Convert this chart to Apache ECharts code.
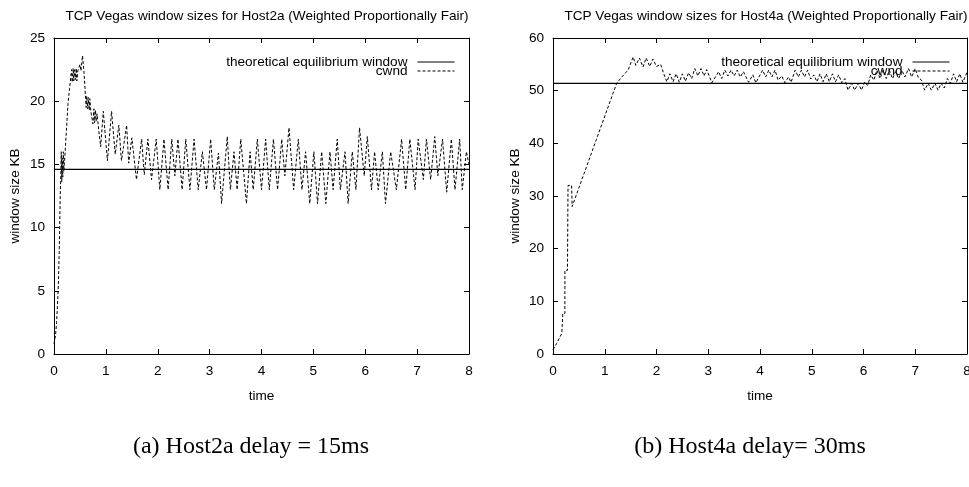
<!DOCTYPE html>
<html lang="en">
<head>
  <meta charset="utf-8">
  <style>
    html, body { margin: 0; padding: 0; background: #fff; }
  </style>
</head>
<body>
  <div id="container" style="width: 969px; height: 487px;"></div>
  <script type="text/javascript" src="https://fastly.jsdelivr.net/npm/echarts@6/dist/echarts.min.js"></script>
  <script type="text/javascript">
    // valores (tempo em s, janela em KB)
    var leftTime = [0, 0.03, 0.05, 0.08, 0.1, 0.12, 0.13, 0.14, 0.15, 0.16, 0.17, 0.18, 0.19, 0.2, 0.27,
      0.3, 0.34, 0.35, 0.37, 0.38, 0.4, 0.41, 0.43, 0.44, 0.46, 0.5, 0.52, 0.55, 0.58, 0.62,
      0.63, 0.65, 0.66, 0.68, 0.69, 0.71, 0.74, 0.75, 0.77, 0.78, 0.8, 0.81, 0.83, 0.86, 0.9,
      0.95, 1.03, 1.11, 1.18, 1.25, 1.30, 1.34, 1.40, 1.44, 1.50, 1.59, 1.69, 1.74, 1.81, 1.88, 1.97, 2.04,
      2.12, 2.20, 2.27, 2.33, 2.39, 2.47, 2.54, 2.62, 2.70, 2.78, 2.86, 2.94, 3.02, 3.09, 3.17, 3.23,
      3.34, 3.40, 3.47, 3.53, 3.60, 3.71, 3.78, 3.84, 3.92,
      4.00, 4.08, 4.15, 4.23, 4.31, 4.39, 4.45, 4.53, 4.62, 4.71, 4.78, 4.85, 4.93, 5.01, 5.08, 5.16,
      5.24, 5.32, 5.38, 5.46, 5.52, 5.61, 5.67, 5.75, 5.82, 5.89,
      5.98, 6.04, 6.12, 6.18, 6.25, 6.33, 6.39, 6.49, 6.60, 6.70, 6.78, 6.86, 6.96, 7.02, 7.12, 7.18,
      7.26, 7.34, 7.40, 7.49, 7.57, 7.66, 7.73, 7.82, 7.87, 7.95, 8.0];
    var leftCwnd = [0.8, 1.5, 2.5, 5, 8, 12.5, 14, 16, 13.6, 15.5, 14, 16, 14.5, 15, 19.8,
      21, 22.5, 21.5, 22.6, 21.6, 22.5, 21.7, 22.6, 21.6, 22.4, 22.9, 22.4, 23.6, 22.2, 19.5,
      20.4, 19.4, 20.3, 19.3, 20.2, 19.2, 19.3, 18.2, 19.4, 18.3, 19.3, 18.4, 19.0, 17.8, 16.4,
      19.2, 15.3, 19.2, 15.8, 18.1, 15.3, 16.4, 18.1, 15.1, 17.1, 13.8, 17.0, 14.2, 17.0, 13.8, 17.0, 13.0,
      17, 13, 17, 14.1, 17, 13, 17, 13, 17, 13, 16, 13, 17, 13, 15.9, 11.9,
      17.2, 13, 16, 13, 17, 11.9, 16, 13, 17,
      13, 17, 13, 17, 13, 17, 14.1, 17.9, 13, 17, 13, 16, 11.9, 16, 11.9, 16,
      11.9, 16, 13, 17, 13, 16, 11.9, 16, 13, 17.9,
      14.1, 17.2, 13, 16, 13, 16, 11.9, 16, 13, 17, 13, 17, 13, 17, 13.8, 17,
      13.8, 17.2, 14.1, 17, 12.8, 17, 13, 17, 13, 16, 15];
    var leftEquilibrium = 14.6;

    var rightTime = [0, 0.07, 0.17, 0.19, 0.23, 0.23, 0.28, 0.29, 0.36, 0.37, 1.23, 1.33, 1.45,
      1.55, 1.6, 1.67, 1.74, 1.8, 1.87, 1.93, 2.0, 2.08, 2.14, 2.2,
      2.26, 2.32, 2.38, 2.44, 2.5, 2.56, 2.62,
      2.68, 2.74, 2.80, 2.86, 2.92, 2.97, 3.07,
      3.2, 3.26, 3.32, 3.38, 3.44, 3.5, 3.56, 3.62, 3.68, 3.78, 3.86, 3.92,
      4.05, 4.11, 4.17, 4.23, 4.29, 4.35,
      4.42, 4.48, 4.55, 4.6,
      4.68, 4.74, 4.8, 4.86, 4.92, 4.98, 5.04,
      5.1, 5.16, 5.22, 5.28, 5.34, 5.4, 5.46, 5.52, 5.58, 5.64,
      5.7, 5.77, 5.83, 5.9, 5.96, 6.02,
      6.08, 6.14,
      6.2, 6.26, 6.32, 6.38, 6.44, 6.5, 6.56, 6.62, 6.68, 6.74,
      6.8, 6.87, 6.93, 7.0, 7.06, 7.12,
      7.18, 7.25, 7.31, 7.38, 7.44, 7.5, 7.56,
      7.62, 7.68, 7.74, 7.8, 7.86, 7.92, 8.0];
    var rightCwnd = [0.8, 2, 3.9, 7.7, 7.7, 15.9, 15.9, 32, 32, 28, 51.4, 52.6, 53.9,
      56.4, 54.8, 56.2, 54.5, 56.2, 54.6, 56, 54.6, 55, 53.2, 51.7,
      53.2, 51.7, 53.2, 51.6, 53.2, 51.8, 53.4,
      52.3, 54.2, 52.8, 54.2, 52.8, 54.0, 51.5,
      53.6, 52.3, 53.9, 52.8, 53.9, 52.8, 53.9, 52.6, 53.6, 51.6, 53.0, 51.5,
      53.9, 52.6, 53.9, 52.6, 53.9, 52.0,
      52.8, 51.5, 52.6, 51.6,
      53.9, 52.6, 53.9, 52.6, 53.9, 52.2, 53.0,
      51.7, 53.2, 51.7, 53.2, 51.7, 53.2, 51.7, 53.0, 51.5, 52.3,
      50.1, 51.4, 50.1, 51.4, 50.1, 51.6,
      51.0, 53.0,
      52.0, 53.9, 52.3, 53.9, 52.3, 53.9, 52.3, 53.6, 52.3, 53.9,
      52.6, 54.2, 52.6, 54.2, 52.5, 52.0,
      50.1, 51.4, 50.1, 51.4, 50.1, 51.4, 50.5,
      52.3, 51.4, 53.2, 51.7, 53.2, 51.6, 53.5];
    var rightEquilibrium = 51.4;

    var xTicks = [0, 8, 1];
    var leftYTicks = [0, 25, 5];
    var rightYTicks = [0, 60, 10];

    var titles = ['TCP Vegas window sizes for Host2a (Weighted Proportionally Fair)',
                  'TCP Vegas window sizes for Host4a (Weighted Proportionally Fair)'];
    var captions = ['(a) Host2a delay = 15ms', '(b) Host4a delay= 30ms'];
    var legendNames = ['theoretical equilibrium window', 'cwnd'];

    var sans = "'Liberation Sans', Arial, Helvetica, sans-serif";
    var serif = "'Liberation Serif', 'Times New Roman', serif";
    var fs = 13.6;

    function pairs(t, v) {
      return t.map(function (x, i) { return [x, v[i]]; });
    }

    function xAxisFor(grid, pos, withLabel) {
      return {
        gridIndex: grid, type: 'value', position: pos,
        min: xTicks[0], max: xTicks[1], interval: xTicks[2],
        name: withLabel ? 'time' : '', nameLocation: 'middle', nameGap: 35,
        nameTextStyle: { color: '#000', fontFamily: sans, fontSize: fs },
        axisLine: { show: true, onZero: false, lineStyle: { color: '#000', width: 1 } },
        axisTick: { show: true, inside: true, length: 5, lineStyle: { color: '#000' } },
        axisLabel: { show: withLabel, color: '#000', fontFamily: sans, fontSize: fs, margin: 10 },
        splitLine: { show: false }
      };
    }

    function yAxisFor(grid, pos, ticks, withLabel, gap) {
      return {
        gridIndex: grid, type: 'value', position: pos,
        min: ticks[0], max: ticks[1], interval: ticks[2],
        name: withLabel ? 'window size KB' : '', nameLocation: 'middle', nameGap: gap,
        nameTextStyle: { color: '#000', fontFamily: sans, fontSize: fs },
        axisLine: { show: true, onZero: false, lineStyle: { color: '#000', width: 1 } },
        axisTick: { show: true, inside: true, length: 5, lineStyle: { color: '#000' } },
        axisLabel: { show: withLabel, color: '#000', fontFamily: sans, fontSize: fs, margin: 9 },
        splitLine: { show: false }
      };
    }

    function legendFor(right) {
      return {
        data: legendNames, orient: 'vertical', align: 'right',
        right: right, top: 55, padding: 0,
        itemWidth: 37, itemHeight: 11, itemGap: -5,
        selectedMode: false,
        itemStyle: { opacity: 0 },
        lineStyle: { width: 1 },
        textStyle: { color: '#000', fontFamily: sans, fontSize: fs, lineHeight: 10, padding: [0, 5, 0, 0] }
      };
    }

    function eqSeries(xi, yi, val) {
      return {
        name: legendNames[0], type: 'line', xAxisIndex: xi, yAxisIndex: yi,
        data: [[xTicks[0], val], [xTicks[1], val]],
        symbol: 'none', color: '#000',
        lineStyle: { color: '#000', width: 1.2, type: 'solid' }
      };
    }

    function cwndSeries(xi, yi, t, v) {
      return {
        name: legendNames[1], type: 'line', xAxisIndex: xi, yAxisIndex: yi,
        data: pairs(t, v),
        symbol: 'none', color: '#000',
        lineStyle: { color: '#000', width: 1, type: [3, 2] }
      };
    }

    var chart = echarts.init(document.getElementById('container'));
    chart.setOption({
      animation: false,
      title: [
        { text: titles[0], left: 262, top: 4, textAlign: 'center',
          textStyle: { color: '#000', fontFamily: sans, fontSize: fs, fontWeight: 'normal' } },
        { text: titles[1], left: 761, top: 4, textAlign: 'center',
          textStyle: { color: '#000', fontFamily: sans, fontSize: fs, fontWeight: 'normal' } },
        { text: captions[0], left: 246, top: 430, textAlign: 'center',
          textStyle: { color: '#000', fontFamily: serif, fontSize: 24, fontWeight: 'normal' } },
        { text: captions[1], left: 745, top: 430, textAlign: 'center',
          textStyle: { color: '#000', fontFamily: serif, fontSize: 24, fontWeight: 'normal' } }
      ],
      legend: [legendFor(514), legendFor(19)],
      grid: [
        { left: 54, right: 500, top: 38, bottom: 133, outerBoundsMode: 'none' },
        { left: 553, right: 2, top: 38, bottom: 133, outerBoundsMode: 'none' }
      ],
      xAxis: [
        xAxisFor(0, 'bottom', true), xAxisFor(0, 'top', false),
        xAxisFor(1, 'bottom', true), xAxisFor(1, 'top', false)
      ],
      yAxis: [
        yAxisFor(0, 'left', leftYTicks, true, 32), yAxisFor(0, 'right', leftYTicks, false, 0),
        yAxisFor(1, 'left', rightYTicks, true, 31), yAxisFor(1, 'right', rightYTicks, false, 0)
      ],
      series: [
        eqSeries(0, 0, leftEquilibrium),
        cwndSeries(0, 0, leftTime, leftCwnd),
        eqSeries(2, 2, rightEquilibrium),
        cwndSeries(2, 2, rightTime, rightCwnd)
      ]
    });
  </script>
</body>
</html>
